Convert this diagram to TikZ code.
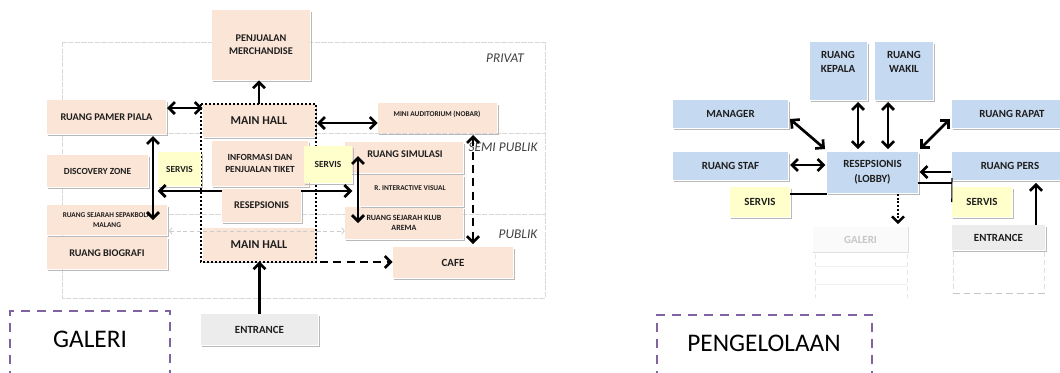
\documentclass[tikz,border=0pt]{standalone}
\usepackage{fontspec}
\setmainfont{Carlito}
\usetikzlibrary{arrows.meta,calc}
\definecolor{peach}{RGB}{251,229,214}
\definecolor{bluebox}{RGB}{197,217,241}
\definecolor{yel}{RGB}{255,255,204}
\definecolor{entgray}{RGB}{236,236,236}
\definecolor{purp}{RGB}{128,100,162}
\definecolor{txt}{RGB}{30,30,30}
\newcommand\bx[7]{\node[#6, minimum width={(#4-#2)*0.75pt}, minimum height={(#5-#3)*0.75pt}] (#1) at ({(#2+#4)/2},{(#3+#5)/2}) {#7};}
\newcommand\shd[1]{\draw[shad] ($(#1.south west)+(1,1)$) -- ($(#1.south east)+(1,1)$) -- ($(#1.north east)+(1,2)$);}
\tikzset{
  box/.style={inner sep=0pt, align=center, text=txt},
  pk/.style={box, fill=peach},
  bl/.style={box, fill=bluebox},
  yl/.style={box, fill=yel},
  gy/.style={box, fill=entgray},
  fa/.style={box, fill=gray!4, text=gray!45},
  s5/.style={font=\bfseries\fontsize{5.5}{7}\selectfont},
  s6/.style={font=\bfseries\fontsize{6}{7.5}\selectfont},
  s7/.style={font=\bfseries\fontsize{7}{9}\selectfont},
  s75/.style={font=\bfseries\fontsize{7.7}{10}\selectfont},
  s8/.style={font=\bfseries\fontsize{8.2}{11}\selectfont},
  s9/.style={font=\bfseries\fontsize{9}{11}\selectfont},
  lbl/.style={inner sep=0pt, align=center, text=txt},
  zone/.style={gray!30, line width=0.6pt, dash pattern=on 4pt off 1pt},
  zlab/.style={inner sep=0pt, text=black!75, font=\itshape\fontsize{10}{12}\selectfont},
  shad/.style={gray!55, line width=0.9pt},
  tip/.tip={Straight Barb[length=4.5pt,width=9pt]},
  arr/.style={line width=2pt, -tip},
  darr/.style={line width=2pt, tip-tip},
  dsharr/.style={line width=2pt, dash pattern=on 6pt off 4pt, -tip},
  dshdarr/.style={line width=2pt, dash pattern=on 6pt off 4pt, tip-tip},
  dotarr/.style={line width=1.8pt, dash pattern=on 1.4pt off 1.4pt, -tip},
  faintarr/.style={gray!40, line width=0.6pt, dash pattern=on 3pt off 2pt, {Straight Barb[length=2pt,width=5pt]}-{Straight Barb[length=2pt,width=5pt]}},
  thin/.style={black, line width=0.8pt},
  purpbox/.style={purp, line width=1.3pt, dash pattern=on 7pt off 5pt},
  big/.style={inner sep=0pt, text=black, font=\fontsize{19}{22}\selectfont}
}
\begin{document}
\begin{tikzpicture}[x=0.75pt,y=-0.75pt]
\fill[white] (0,0) rectangle (1060,372);
\useasboundingbox (0,0) rectangle (1060,372);

% ---------- zones (left) ----------
\draw[zone] (62,42) rectangle (545,298);
\draw[zone] (62,133) -- (545,133);
\draw[zone] (62,214) -- (545,214);
\node[zlab] (zpriv) at (505,58) {PRIVAT};
\node[zlab] (zsemi) at (503,147) {SEMI PUBLIK};
\node[zlab] (zpub) at (518,234) {PUBLIK};

% ---------- left boxes ----------
\bx{merch}{212}{10}{310}{80}{pk,s75}{PENJUALAN\\MERCHANDISE}
\bx{pamer}{47}{100}{166}{134}{pk,s75}{RUANG PAMER PIALA}
\bx{mh1}{203}{104}{315}{137}{pk,s9}{MAIN HALL}
\bx{info}{212}{141}{308}{186}{pk,s7}{INFORMASI DAN\\PENJUALAN TIKET}
\bx{resep}{222}{189}{301}{222}{pk,s75}{RESEPSIONIS}
\bx{mh2}{203}{228}{315}{261}{pk,s9}{MAIN HALL}
\bx{disc}{47}{155}{148}{187}{pk,s7}{DISCOVERY ZONE}
\bx{sejS}{47}{205}{167}{235}{pk,s5}{RUANG SEJARAH SEPAKBOLA\\MALANG}
\bx{bio}{47}{237}{167}{269}{pk,s75}{RUANG BIOGRAFI}
\bx{mini}{378}{103}{497}{133}{pk}{}
\node[lbl,s5] (miniT) at (437,114) {MINI AUDITORIUM (NOBAR)};
\bx{sim}{345}{142}{463}{173}{pk}{}
\node[lbl,s75] (simT) at (405,154) {RUANG SIMULASI};
\bx{inter}{360}{175}{463}{206}{pk}{}
\node[lbl,s5] (interT) at (410,188) {R. INTERACTIVE VISUAL};
\bx{sejK}{345}{207}{463}{239}{pk,s6}{RUANG SEJARAH KLUB\\AREMA}
\bx{cafe}{393}{247}{513}{278}{pk,s8}{CAFE}
\bx{entL}{201}{314}{318}{345}{gy,s8}{ENTRANCE}
\foreach \n in {merch,pamer,mh1,info,resep,mh2,disc,sejS,bio,mini,sim,inter,sejK,cafe,entL} {\shd{\n}}

% dotted main-hall frame
\draw[line width=1.9pt, dash pattern=on 1.5pt off 1.5pt] (201,104) rectangle (316,262);

\bx{servL}{158}{152}{201}{186}{yl,s7}{SERVIS}
\bx{servR}{304}{146}{352}{183}{yl,s7}{SERVIS}
\shd{servL}\shd{servR}

% ---------- left connectors ----------
\draw[arr] (mh1.north) -- (mh1.north |- merch.south);
\coordinate (h0) at (167,108);
\draw[darr] (h0) -- (h0 -| mh1.west);
\coordinate (h1) at (317,123);
\draw[darr] (h1) -- (h1 -| mini.west);
\coordinate (v1) at (153,136);
\draw[darr] (v1) -- (v1 |- sejS.center);
\coordinate (r1) at (222,191);
\draw[arr] (r1) -- (r1 -| servL.west);
\coordinate (r2) at (301,191);
\draw[arr] (r2) -- (r2 -| servR.east);
\coordinate (v2) at (358,156);
\draw[darr] (v2) -- (v2 |- sejK.center);
\coordinate (v3) at (473,135);
\draw[dshdarr, shorten >=2pt] (v3) -- (v3 |- cafe.north);
\coordinate (d1) at (320,262);
\draw[dsharr] (d1) -- (d1 -| cafe.west);
\coordinate (f1) at (169,231);
\draw[faintarr] (f1) -- (f1 -| sejK.west);
\draw[arr] (entL.north) -- (entL.north |- mh2.south);

% GALERI label
\draw[purpbox] (10,380) -- (10,311) -- (170,311) -- (170,380);
\node[big] (galeriT) at (90,339) {GALERI};

% ---------- right diagram ----------
\bx{kep}{810}{42}{867}{100}{bl}{}
\node[lbl,s8] (kepT) at (838,62) {RUANG\\KEPALA};
\bx{wak}{875}{42}{933}{100}{bl}{}
\node[lbl,s8] (wakT) at (904,62) {RUANG\\WAKIL};
\bx{man}{673}{100}{788}{128}{bl,s8}{MANAGER}
\bx{rap}{952}{100}{1072}{128}{bl,s8}{RUANG RAPAT}
\bx{staf}{673}{152}{788}{180}{bl,s8}{RUANG STAF}
\bx{lob}{827}{152}{918}{193}{bl,s8}{RESEPSIONIS\\(LOBBY)}
\bx{pers}{952}{152}{1068}{180}{bl,s8}{RUANG PERS}
\bx{sv1}{730}{187}{790}{217}{yl,s8}{SERVIS}
\bx{sv2}{952}{187}{1012}{217}{yl,s8}{SERVIS}
\bx{gal}{813}{227}{908}{252}{fa,s8}{GALERI}
\bx{ent2}{952}{225}{1045}{250}{gy,s8}{ENTRANCE}
\foreach \n in {kep,wak,man,rap,staf,lob,pers,sv1,sv2,ent2} {\shd{\n}}
\draw[gray!25, line width=0.8pt] (gal.south west) -- (gal.south east) -- (gal.north east);

% faint remnants below GALERI / ENTRANCE
\draw[gray!18, line width=0.6pt, dash pattern=on 4pt off 2pt] (815,254) -- (815,298) (907,254) -- (907,298);
\draw[gray!12, line width=0.6pt] (815,266) -- (907,266) (815,284) -- (907,284);
\draw[gray!25, line width=0.6pt, dash pattern=on 4pt off 2pt] (953,252) -- (953,292) (1044,252) -- (1044,292);
\draw[gray!45, line width=0.7pt, dash pattern=on 5pt off 3pt] (953,293) -- (1046,293);

% right connectors
\coordinate (m1) at (790,119);
\coordinate (m2) at (825,149);
\draw[darr] (m1) -- (m2);
\coordinate (k1) at (858,102);
\draw[darr, shorten >=2pt] (k1) -- (k1 |- lob.north);
\coordinate (w1) at (888,102);
\draw[darr, shorten >=2pt] (w1) -- (w1 |- lob.north);
\coordinate (q1) at (950,119);
\coordinate (q2) at (920,149);
\draw[darr] (q1) -- (q2);
\coordinate (t1) at (790,165);
\draw[darr, shorten >=1pt] (t1) -- (t1 -| lob.west);
\coordinate (p1) at (951,172);
\draw[arr, shorten >=1pt] (p1) -- (p1 -| lob.east);
\coordinate (s1) at (790,194);
\draw[thin] (s1) -- (s1 -| lob.west);
\coordinate (s2) at (918,183);
\draw[thin] (s2) -- (s2 -| sv2.west);
\coordinate (s3) at (952,178);
\draw[thin] (s3) -- (sv2.west);
\coordinate (g1) at (898,194);
\draw[dotarr, shorten >=2pt] (g1) -- (g1 |- gal.north);
\coordinate (e1) at (1036,225);
\draw[arr, shorten >=2pt] (e1) -- (e1 |- pers.south);

% PENGELOLAAN label
\draw[purpbox] (657,380) -- (657,315) -- (872,315) -- (872,380);
\node[big] (pengT) at (764,343) {PENGELOLAAN};
\end{tikzpicture}
\end{document}
